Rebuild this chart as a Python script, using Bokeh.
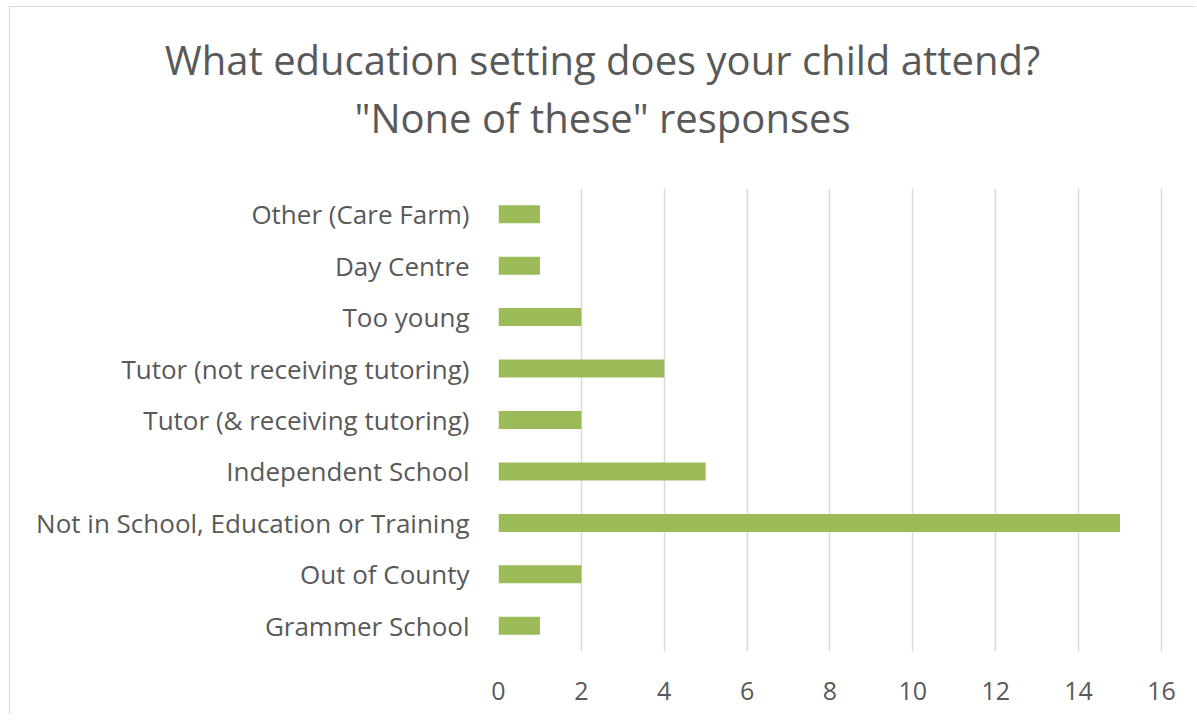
from bokeh.plotting import figure
from bokeh.models import Div, FixedTicker
from bokeh.layouts import column
from bokeh.embed import file_html
from bokeh.resources import INLINE

categories = [
    "Grammer School",
    "Out of County",
    "Not in School, Education or Training",
    "Independent School",
    "Tutor (& receiving tutoring)",
    "Tutor (not receiving tutoring)",
    "Too young",
    "Day Centre",
    "Other (Care Farm)",
]
counts = [1, 2, 15, 5, 2, 4, 2, 1, 1]
x_ticks = [0, 2, 4, 6, 8, 10, 12, 14, 16]
title_lines = ["What education setting does your child attend?", "\"None of these\" responses"]

GRAY = "#595959"
FONT = "Open Sans"

title = Div(
    text="<br>".join(title_lines),
    width=1185, height=172, margin=(0, 0, 0, 0),
    styles={"text-align": "center", "font-family": FONT, "font-size": "40px",
            "color": GRAY, "line-height": "58px", "padding-top": "24px",
            "width": "1185px", "box-sizing": "border-box"},
)

p = figure(
    y_range=categories, x_range=(0, 16.05),
    width=1185, height=535,
    output_backend="svg", toolbar_location=None,
    min_border_left=488, min_border_right=32, min_border_top=9, min_border_bottom=63,
)
p.hbar(y=categories, right=counts, height=0.35, color="#9BBB59", line_color=None)

p.outline_line_color = None
p.background_fill_color = "white"
p.border_fill_color = "white"

p.ygrid.grid_line_color = None
p.xgrid.grid_line_color = "#d9d9d9"
p.xgrid.grid_line_width = 1.5
p.xaxis.ticker = FixedTicker(ticks=x_ticks)

for ax in (p.xaxis[0], p.yaxis[0]):
    ax.axis_line_color = None
    ax.major_tick_line_color = None
    ax.minor_tick_line_color = None
    ax.major_label_text_color = GRAY
    ax.major_label_text_font = FONT

p.xaxis.major_label_text_font_size = "25px"
p.xaxis.major_label_standoff = 24
p.yaxis.major_label_text_font_size = "26px"
p.yaxis.major_label_standoff = 23

layout = column(title, p, spacing=0, margin=(6, 0, 0, 9),
                styles={"border-left": "1.5px solid #d9d9d9", "border-top": "1.5px solid #d9d9d9",
                        "background-color": "white"})
open("out.html", "w").write(file_html(layout, INLINE))
